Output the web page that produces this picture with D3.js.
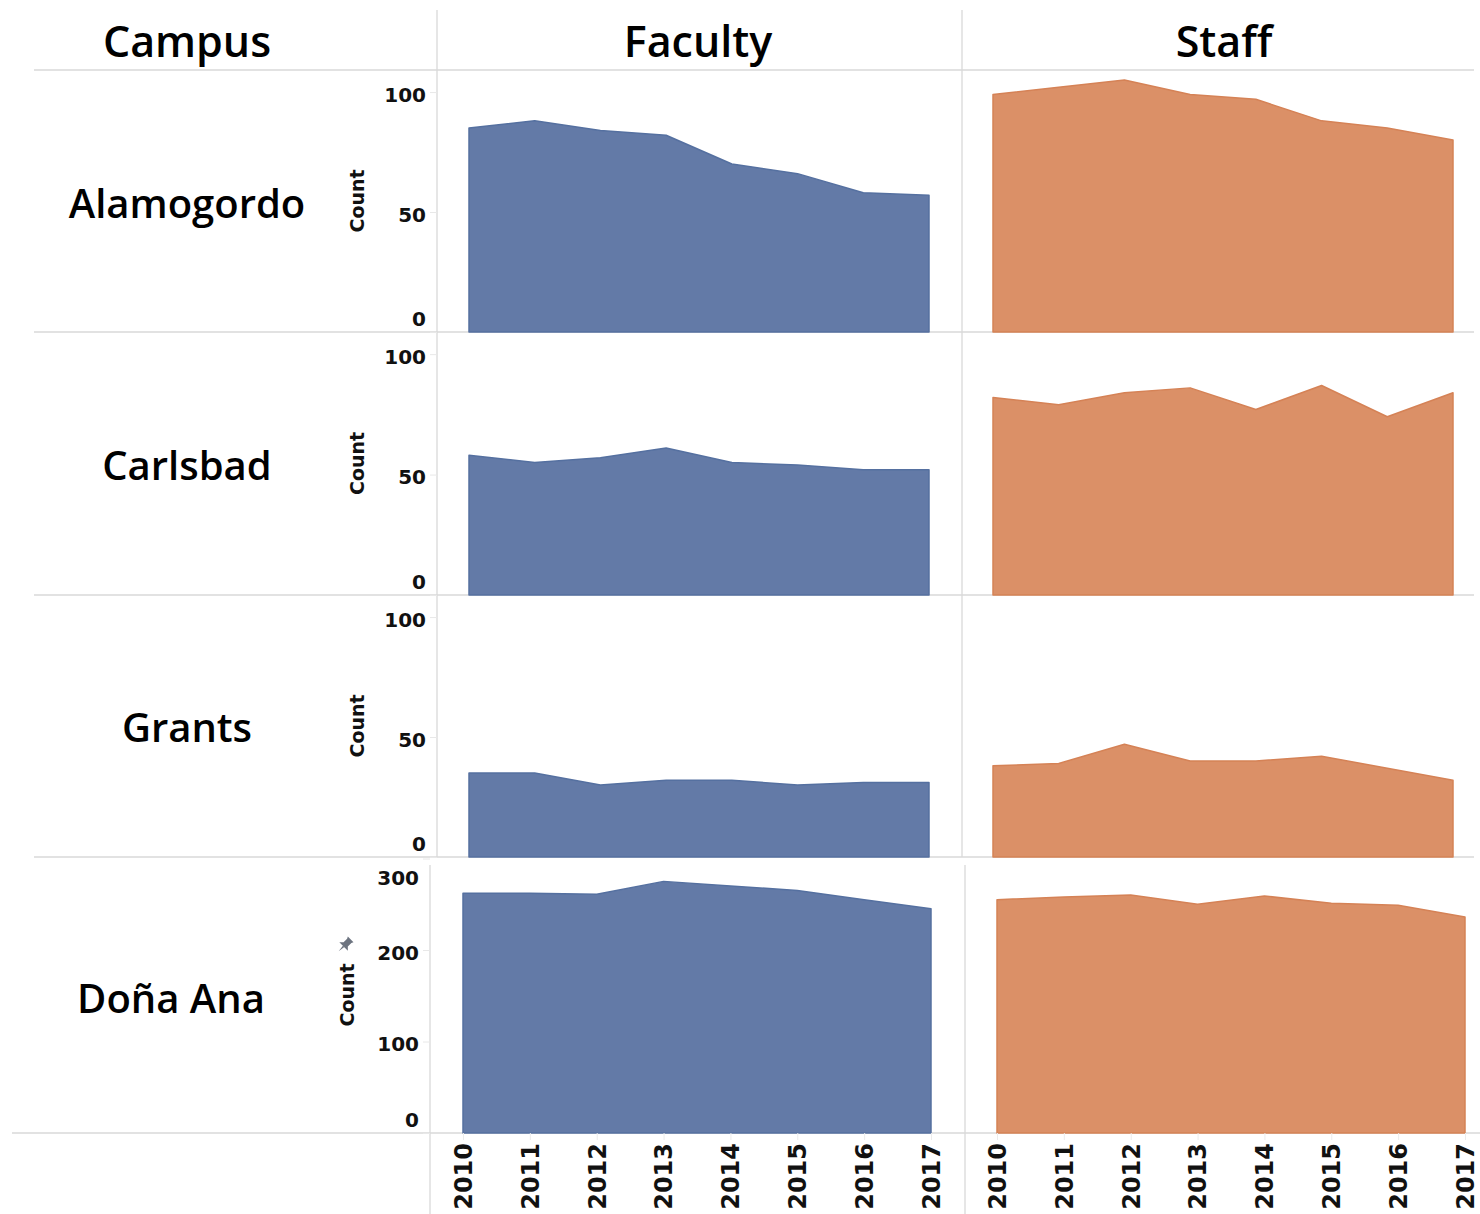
<!DOCTYPE html>
<html><head><meta charset="utf-8">
<script src="https://cdn.jsdelivr.net/npm/d3@7"></script>
<style>body{margin:0;background:#fff}svg{display:block}</style>
</head><body>
<script>
const years = [2010, 2011, 2012, 2013, 2014, 2015, 2016, 2017];
const campuses = ["Alamogordo", "Carlsbad", "Grants", "Doña Ana"];
const groups = ["Faculty", "Staff"];
const facultyAlamogordo = [85, 88, 84, 82, 70, 66, 58, 57];
const staffAlamogordo   = [99, 102, 105, 99, 97, 88, 85, 80];
const facultyCarlsbad   = [58, 55, 57, 61, 55, 54, 52, 52];
const staffCarlsbad     = [82, 79, 84, 86, 77, 87, 74, 84];
const facultyGrants     = [35, 35, 30, 32, 32, 30, 31, 31];
const staffGrants       = [38, 39, 47, 40, 40, 42, 37, 32];
const facultyDonaAna    = [262, 262, 261, 275, 270, 265, 255, 245];
const staffDonaAna      = [255, 258, 260, 250, 259, 251, 249, 236];
const smallTicks = [0, 50, 100];
const largeTicks = [0, 100, 200, 300];

const series = [
  [facultyAlamogordo, staffAlamogordo],
  [facultyCarlsbad, staffCarlsbad],
  [facultyGrants, staffGrants],
  [facultyDonaAna, staffDonaAna]
];

const W = 1480, H = 1214;
const fill = ["#637aa7", "#db9067"];
const edge = ["#5570a0", "#d58256"];
const grid = "#d9d9d9";
const fontHead = "'Open Sans', sans-serif";
const fontAxis = "'DejaVu Sans', sans-serif";

const rows = [
  {top: 70,  bottom: 332,  max: 109.2, ticks: smallTicks, axisX: 437, fx: [469, 929], sx: [993, 1453], labelX: 187, labelY: 204, countX: 357},
  {top: 332, bottom: 595,  max: 109.2, ticks: smallTicks, axisX: 437, fx: [469, 929], sx: [993, 1453], labelX: 187, labelY: 466, countX: 357},
  {top: 595, bottom: 857,  max: 109.2, ticks: smallTicks, axisX: 437, fx: [469, 929], sx: [993, 1453], labelX: 187, labelY: 728, countX: 357},
  {top: 858.5, bottom: 1133, max: 300, ticks: largeTicks, axisX: 430, fx: [463, 931], sx: [997, 1465], labelX: 171, labelY: 999, countX: 347}
];

const svg = d3.select("body").append("svg").attr("width", W).attr("height", H);

// grid / divider lines
const g = svg.append("g").attr("stroke", grid).attr("stroke-width", 1.3);
[[34, 70, 1474, 70], [34, 332, 1474, 332], [34, 595, 1474, 595], [34, 857, 1474, 857], [12, 1133, 1480, 1133],
 [437, 10, 437, 857], [962, 10, 962, 857], [430, 865, 430, 1214], [965, 865, 965, 1214]]
  .forEach(([x1, y1, x2, y2]) => g.append("line").attr("x1", x1).attr("y1", y1).attr("x2", x2).attr("y2", y2));

// headers
svg.append("text").attr("x", 187).attr("y", 42).attr("dy", "0.35em").attr("text-anchor", "middle")
  .attr("font-family", fontHead).attr("font-weight", 600).attr("font-size", 43).text("Campus");
const headX = [698, 1224];
groups.forEach((gname, i) => {
  svg.append("text").attr("x", headX[i]).attr("y", 42).attr("dy", "0.35em").attr("text-anchor", "middle")
    .attr("font-family", fontHead).attr("font-weight", 600).attr("font-size", 43).text(gname);
});

rows.forEach((r, ri) => {
  const y = d3.scaleLinear().domain([0, r.max]).range([r.bottom, r.top]);

  // campus label
  svg.append("text").attr("x", r.labelX).attr("y", r.labelY).attr("dy", "0.35em").attr("text-anchor", "middle")
    .attr("font-family", fontHead).attr("font-weight", 600).attr("font-size", 40).text(campuses[ri]);

  // y axis
  const ax = svg.append("g").attr("transform", `translate(${r.axisX},0)`)
    .call(d3.axisLeft(y).tickValues(r.ticks).tickSize(7).tickFormat(d3.format("d")));
  ax.select(".domain").remove();
  ax.selectAll(".tick line").attr("stroke", "#e8e8e8");
  ax.selectAll(".tick text")
    .attr("font-family", fontAxis).attr("font-weight", "bold").attr("font-size", 20).attr("fill", "#111")
    .attr("x", -11).attr("dy", "0.35em")
    .attr("y", d => {
      const ty = y(d);
      const c = Math.max(r.top + 19, Math.min(r.bottom - 14, ty + 2));
      return c - ty;
    });

  const cy = ri === 3 ? 995 : (r.top + r.bottom) / 2;
  svg.append("text").attr("transform", `translate(${r.countX},${cy}) rotate(-90)`)
    .attr("text-anchor", "middle").attr("dy", "0.35em")
    .attr("font-family", fontAxis).attr("font-weight", "bold").attr("font-size", 19).attr("fill", "#111")
    .text("Count");

  // areas
  [r.fx, r.sx].forEach((range, gi) => {
    const x = d3.scaleLinear().domain([years[0], years[years.length - 1]]).range(range);
    const vals = series[ri][gi];
    const area = d3.area().x((d, i) => x(years[i])).y0(r.bottom).y1(d => y(d));
    svg.append("path").datum(vals).attr("d", area)
      .attr("fill", fill[gi]).attr("stroke", edge[gi]).attr("stroke-width", 1.5).attr("stroke-linejoin", "round");

    if (ri === 3) {
      const xa = svg.append("g").attr("transform", `translate(0,${r.bottom})`)
        .call(d3.axisBottom(x).tickValues(years).tickSize(7).tickFormat(d3.format("d")));
      xa.select(".domain").remove();
      xa.selectAll(".tick line").attr("stroke", "#ececec");
      xa.selectAll(".tick text")
        .attr("font-family", fontAxis).attr("font-weight", "bold").attr("font-size", 24).attr("fill", "#111")
        .attr("transform", "rotate(-90)").attr("text-anchor", "end")
        .attr("x", -10).attr("y", 0).attr("dy", "0.35em");
    }
  });
});

// pin icon near Doña Ana axis title
svg.append("path")
  .attr("transform", "translate(345,945) rotate(45)")
  .attr("d", "M-4,-8 L4,-8 L3,-6 L3,-1 L6,2 L-6,2 L-3,-1 L-3,-6 Z M-1,2 L0,9 L1,2 Z")
  .attr("fill", "#6d7480");
</script>
</body></html>
